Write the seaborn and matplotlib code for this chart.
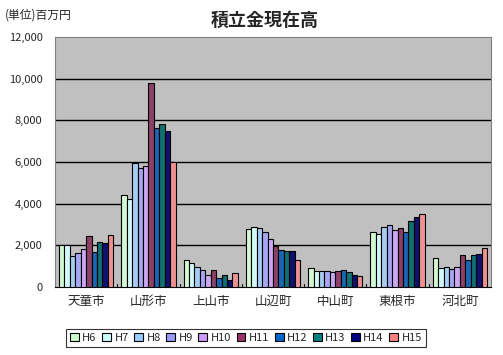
import seaborn as sns
import matplotlib.pyplot as plt
import matplotlib.patches as mpatches
import pandas as pd
from matplotlib.ticker import FuncFormatter

# data (unit: million yen)
cities = ['天童市', '山形市', '上山市', '山辺町', '中山町', '東根市', '河北町']
years = ['H6', 'H7', 'H8', 'H9', 'H10', 'H11', 'H12', 'H13', 'H14', 'H15']

tendo = [2000, 2000, 1470, 1620, 1810, 2450, 1660, 2140, 2100, 2480]
yamagata = [4400, 4220, 5950, 5700, 5790, 9780, 7620, 7810, 7490, 5980]
kaminoyama = [1280, 1150, 940, 800, 560, 800, 420, 560, 320, 660]
yamanobe = [2790, 2890, 2840, 2650, 2310, 1980, 1770, 1730, 1730, 1290]
nakayama = [900, 760, 760, 760, 710, 760, 810, 710, 560, 520]
higashine = [2650, 2550, 2890, 2980, 2740, 2840, 2650, 3180, 3370, 3520]
kahoku = [1390, 900, 950, 850, 950, 1530, 1290, 1530, 1580, 1870]

colors = ['#CCFFCC', '#CCFFFF', '#99CCFF', '#9999FF', '#CC99FF',
          '#993366', '#0066CC', '#008080', '#000080', '#FF8080']

values = [tendo, yamagata, kaminoyama, yamanobe, nakayama, higashine, kahoku]
rows = []
for city, vals in zip(cities, values):
    for yr, v in zip(years, vals):
        rows.append({'city': city, 'year': yr, 'value': v})
df = pd.DataFrame(rows)

sns.set_style('white')
plt.rcParams['font.family'] = ['Noto Sans CJK JP', 'DejaVu Sans']

fig = plt.figure(figsize=(5.03, 3.55), dpi=100)
ax = fig.add_axes([55 / 503, 1 - 287 / 355, 436 / 503, 250 / 355])
ax.set_facecolor('#C0C0C0')

sns.barplot(data=df, x='city', y='value', hue='year', order=cities,
            hue_order=years, palette=colors, edgecolor='black',
            linewidth=0.8, width=0.87, ax=ax, zorder=3, legend=False)

ax.set_ylim(0, 12000)
ax.set_yticks(range(0, 12001, 2000))
ax.yaxis.set_major_formatter(FuncFormatter(lambda v, p: f'{int(v):,}'))
for y in range(2000, 12000, 2000):
    ax.axhline(y, color='black', linewidth=1, zorder=1)
ax.set_xlim(-0.5, len(cities) - 0.5)
ax.set_xlabel('')
ax.set_ylabel('')
ax.tick_params(axis='y', labelsize=8, length=0, pad=9)
ax.tick_params(axis='x', labelsize=9, length=0, pad=6)
for s in ['top', 'right', 'left']:
    ax.spines[s].set_color('#808080')
ax.spines['bottom'].set_color('black')
for i in range(len(cities) - 1):
    ax.plot([i + 0.5, i + 0.5], [0, 150], color='black', linewidth=0.8, zorder=4)

fig.text(265 / 503, 1 - 20 / 355, '積立金現在高', ha='center', va='center',
         fontsize=13, fontweight='bold')
fig.text(5 / 503, 1 - 15 / 355, '(単位)百万円', ha='left', va='center', fontsize=8.5)

handles = [mpatches.Patch(facecolor=c, edgecolor='black', linewidth=0.8, label=y)
           for c, y in zip(colors, years)]
leg = fig.legend(handles=handles, loc='center', ncol=10,
                 bbox_to_anchor=(246 / 503, 1 - 338 / 355), fontsize=8,
                 handlelength=0.8, handleheight=0.8, handletextpad=0.3,
                 columnspacing=0.5, frameon=True, fancybox=False,
                 borderpad=0.35, borderaxespad=0)
leg.get_frame().set_edgecolor('black')
leg.get_frame().set_linewidth(0.8)

fig.savefig('out.png', dpi=100)
